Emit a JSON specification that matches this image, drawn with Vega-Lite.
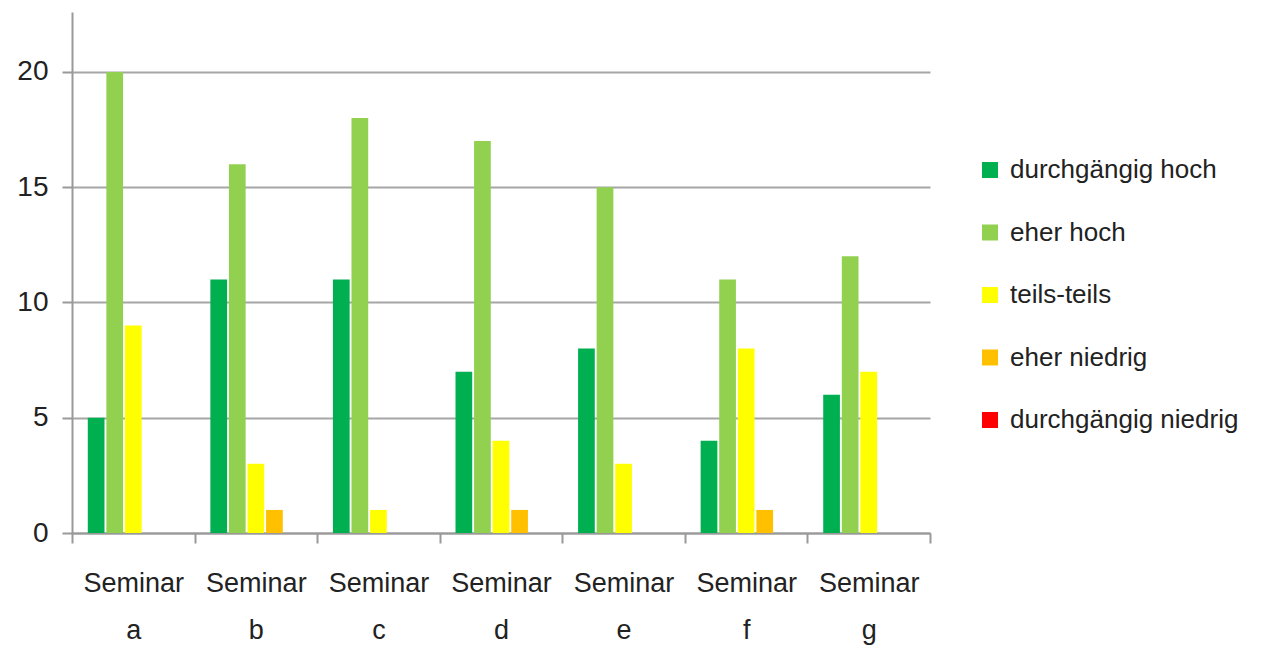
{
  "$schema": "https://vega.github.io/schema/vega-lite/v6.json",
  "width": 858,
  "height": 521,
  "autosize": {"type": "none"},
  "padding": {"left": 72, "top": 12, "right": 356, "bottom": 113},
  "background": "white",
  "config": {"view": {"stroke": null}},
  "data": {"values": [
    {"seminar": "Seminar a", "kategorie": "durchgängig hoch", "anzahl": 5},
    {"seminar": "Seminar a", "kategorie": "eher hoch", "anzahl": 20},
    {"seminar": "Seminar a", "kategorie": "teils-teils", "anzahl": 9},
    {"seminar": "Seminar a", "kategorie": "eher niedrig", "anzahl": 0},
    {"seminar": "Seminar a", "kategorie": "durchgängig niedrig", "anzahl": 0},
    {"seminar": "Seminar b", "kategorie": "durchgängig hoch", "anzahl": 11},
    {"seminar": "Seminar b", "kategorie": "eher hoch", "anzahl": 16},
    {"seminar": "Seminar b", "kategorie": "teils-teils", "anzahl": 3},
    {"seminar": "Seminar b", "kategorie": "eher niedrig", "anzahl": 1},
    {"seminar": "Seminar b", "kategorie": "durchgängig niedrig", "anzahl": 0},
    {"seminar": "Seminar c", "kategorie": "durchgängig hoch", "anzahl": 11},
    {"seminar": "Seminar c", "kategorie": "eher hoch", "anzahl": 18},
    {"seminar": "Seminar c", "kategorie": "teils-teils", "anzahl": 1},
    {"seminar": "Seminar c", "kategorie": "eher niedrig", "anzahl": 0},
    {"seminar": "Seminar c", "kategorie": "durchgängig niedrig", "anzahl": 0},
    {"seminar": "Seminar d", "kategorie": "durchgängig hoch", "anzahl": 7},
    {"seminar": "Seminar d", "kategorie": "eher hoch", "anzahl": 17},
    {"seminar": "Seminar d", "kategorie": "teils-teils", "anzahl": 4},
    {"seminar": "Seminar d", "kategorie": "eher niedrig", "anzahl": 1},
    {"seminar": "Seminar d", "kategorie": "durchgängig niedrig", "anzahl": 0},
    {"seminar": "Seminar e", "kategorie": "durchgängig hoch", "anzahl": 8},
    {"seminar": "Seminar e", "kategorie": "eher hoch", "anzahl": 15},
    {"seminar": "Seminar e", "kategorie": "teils-teils", "anzahl": 3},
    {"seminar": "Seminar e", "kategorie": "eher niedrig", "anzahl": 0},
    {"seminar": "Seminar e", "kategorie": "durchgängig niedrig", "anzahl": 0},
    {"seminar": "Seminar f", "kategorie": "durchgängig hoch", "anzahl": 4},
    {"seminar": "Seminar f", "kategorie": "eher hoch", "anzahl": 11},
    {"seminar": "Seminar f", "kategorie": "teils-teils", "anzahl": 8},
    {"seminar": "Seminar f", "kategorie": "eher niedrig", "anzahl": 1},
    {"seminar": "Seminar f", "kategorie": "durchgängig niedrig", "anzahl": 0},
    {"seminar": "Seminar g", "kategorie": "durchgängig hoch", "anzahl": 6},
    {"seminar": "Seminar g", "kategorie": "eher hoch", "anzahl": 12},
    {"seminar": "Seminar g", "kategorie": "teils-teils", "anzahl": 7},
    {"seminar": "Seminar g", "kategorie": "eher niedrig", "anzahl": 0},
    {"seminar": "Seminar g", "kategorie": "durchgängig niedrig", "anzahl": 0}
  ]},
  "mark": {"type": "bar"},
  "encoding": {
    "x": {
      "field": "seminar", "type": "nominal", "sort": null,
      "scale": {"paddingInner": 0, "paddingOuter": 0},
      "axis": {
        "title": null, "labelAngle": 0, "grid": false,
        "domainColor": "#999999", "domainWidth": 2,
        "ticks": true, "tickBand": "extent", "tickSize": 10, "tickColor": "#999999", "tickWidth": 2,
        "labelExpr": "split(datum.label, ' ')",
        "labelFont": "Liberation Sans", "labelFontSize": 27, "labelColor": "#222222",
        "labelLineHeight": 47, "labelPadding": 27
      }
    },
    "xOffset": {
      "field": "kategorie", "type": "nominal",
      "sort": ["durchgängig hoch", "eher hoch", "teils-teils", "eher niedrig", "durchgängig niedrig"],
      "scale": {"paddingInner": 0.1, "paddingOuter": 0.85}
    },
    "y": {
      "field": "anzahl", "type": "quantitative",
      "scale": {"domain": [0, 22.6], "nice": false},
      "axis": {
        "title": null, "values": [0, 5, 10, 15, 20],
        "grid": true, "gridColor": "#a6a6a6", "gridWidth": 2,
        "domainColor": "#999999", "domainWidth": 2,
        "tickSize": 10, "tickColor": "#999999", "tickWidth": 2,
        "labelFont": "Liberation Sans", "labelFontSize": 28, "labelColor": "#222222",
        "labelPadding": 14
      }
    },
    "color": {
      "field": "kategorie", "type": "nominal",
      "scale": {
        "domain": ["durchgängig hoch", "eher hoch", "teils-teils", "eher niedrig", "durchgängig niedrig"],
        "range": ["#00b050", "#92d050", "#ffff00", "#ffc000", "#ff0000"]
      },
      "legend": {
        "title": null, "orient": "none", "legendX": 905, "legendY": 145, "padding": 0,
        "symbolType": "square", "symbolSize": 256, "symbolStrokeWidth": 0,
        "labelFont": "Liberation Sans", "labelFontSize": 26, "labelColor": "#222222",
        "labelOffset": 7, "rowPadding": 36.5, "labelLimit": 400
      }
    }
  }
}
